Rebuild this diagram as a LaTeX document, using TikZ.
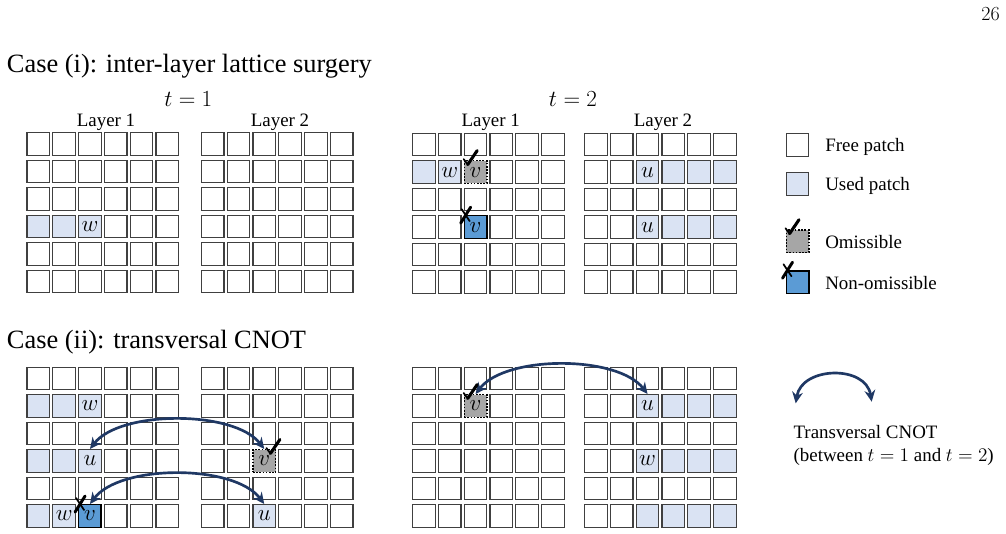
\documentclass[tikz,border=0pt]{standalone}
\usepackage{fontspec}
\newfontfamily\tnr{Liberation Serif}
\usetikzlibrary{arrows.meta}

\begin{document}
\begin{tikzpicture}[
  x=0.75pt, y=-0.75pt,
  font=\tnr\fontsize{14.2}{17}\selectfont,
  every node/.style={inner sep=0pt},
  patch/.style={draw=ink, line width=0.9pt, fill=white,
    minimum width=16.9pt, minimum height=17pt, font=\fontsize{16}{18}\selectfont},
  used/.style={patch, fill=pused},
  omit/.style={patch, fill=pomit, draw=black, line width=1.1pt,
    dash pattern=on 1.2pt off 1.2pt,
    preaction={draw=white, solid, line width=1.8pt}},
  nonomit/.style={patch, fill=pnon, draw=black, line width=1.1pt},
  cnot/.style={draw=cnotblue, line width=2pt,
    {Stealth[length=8.5pt,width=8pt]}-{Stealth[length=8.5pt,width=8pt]}},
  okmark/.style={line cap=round, line join=round},
]

\definecolor{ink}{HTML}{404040}
\definecolor{pused}{HTML}{DAE3F3}
\definecolor{pomit}{HTML}{A6A6A6}
\definecolor{pnon}{HTML}{5B9BD5}
\definecolor{cnotblue}{HTML}{1F3864}

\def\px{25.8}   % column pitch
\def\py{27.5}   % row pitch

\path[fill=white] (0,0) rectangle (1006,534);

% headers
\node[anchor=base east, font=\rmfamily\fontsize{15}{18}\selectfont] (pnum) at (1000,20.7) {26};
\node[anchor=base west, font=\tnr\fontsize{19.8}{24}\selectfont] (case1) at (6.7,73) {Case (i): inter-layer lattice surgery};
\node[anchor=base west, font=\tnr\fontsize{19.8}{24}\selectfont] (case2) at (6.7,349) {Case (ii): transversal CNOT};
\node[anchor=base, font=\fontsize{17.5}{20}\selectfont] (t1) at (188.3,106.5) {$t=1$};
\node[anchor=base, font=\fontsize{17.5}{20}\selectfont] (t2) at (573,106.5) {$t=2$};
\node[anchor=base] (lay-a) at (106,126.5) {Layer 1};
\node[anchor=base] (lay-b) at (280,126.5) {Layer 2};
\node[anchor=base] (lay-c) at (490.7,126.5) {Layer 1};
\node[anchor=base] (lay-d) at (663,126.5) {Layer 2};

% the patch grids
\def\grids{%
  a/26.7/132.3, b/201/132.3, c/412.3/132.8, d/584.3/132.8,
  e/26.7/366.7, f/201/366.7, g/412.3/366.7, h/584.3/366.7%
}
\foreach \g/\gx/\gy in \grids {
  \foreach \r in {1,...,6} {
    \foreach \c in {1,...,6} {
      \node[patch] (\g-\r-\c) at ({\gx+(\c-1)*\px+11.65},{\gy+(\r-1)*\py+11.75}) {};
    }
  }
}

% used, omissible and non-omissible patches
\def\patchlist{%
  a/4/1/used/{}, a/4/2/used/{}, a/4/3/used/w,
  c/2/1/used/{}, c/2/2/used/w, c/2/3/omit/v, c/4/3/nonomit/v,
  d/2/3/used/u, d/2/4/used/{}, d/2/5/used/{}, d/2/6/used/{},
  d/4/3/used/u, d/4/4/used/{}, d/4/5/used/{}, d/4/6/used/{},
  e/2/1/used/{}, e/2/2/used/{}, e/2/3/used/w,
  e/4/1/used/{}, e/4/2/used/{}, e/4/3/used/u,
  e/6/1/used/{}, e/6/2/used/w, e/6/3/nonomit/v,
  f/4/3/omit/v, f/6/3/used/u,
  g/2/3/omit/v,
  h/2/3/used/u, h/2/4/used/{}, h/2/5/used/{}, h/2/6/used/{},
  h/4/3/used/w, h/4/4/used/{}, h/4/5/used/{}, h/4/6/used/{},
  h/6/3/used/{}, h/6/4/used/{}, h/6/5/used/{}, h/6/6/used/{}%
}
\foreach \g/\r/\c/\kind/\lbl in \patchlist {
  \node[\kind] (\g-\r-\c-x) at (\g-\r-\c) {$\lbl$};
}

% legend
\node[patch] (lfree) at (797.5,145) {};
\node[used] (lused) at (797.5,184.2) {};
\node[omit] (lomit) at (797.5,241.3) {};
\node[nonomit] (lnon) at (797.5,282.3) {};
\node[anchor=base west] (txt-free) at (825,152) {Free patch};
\node[anchor=base west] (txt-used) at (825,191) {Used patch};
\node[anchor=base west] (txt-omit) at (825,248.3) {Omissible};
\node[anchor=base west] (txt-non) at (825,289.3) {Non-omissible};

% transversal CNOTs
\draw[cnot] (f-4-3.north) .. controls +(-30,-39) and +(30,-39) .. (e-4-3.north);
\draw[cnot] (e-6-3.north) .. controls +(30,-40) and +(-30,-40) .. (f-6-3.north);
\draw[cnot] (g-2-3.north) .. controls +(30,-39) and +(-30,-39) .. (h-2-3.north);

\coordinate (arrL) at (795.7,403.3);
\coordinate (arrR) at (871.7,401.7);
\draw[cnot] (arrL) .. controls +(6,-37) and +(-6,-37) .. (arrR);
\node[anchor=north west, align=left, font=\tnr\fontsize{14.2}{17}\selectfont] (txt-cnot)
  at (793.3,425.5) {Transversal CNOT\\(between $t=1$ and $t=2$)};

% check and cross marks
\foreach \cell/\sx in {c-2-3/0, g-2-3/0, f-4-3/14, lomit/0} {
  \draw[okmark, line width=1.3pt] ([shift={(\sx+4,4.5)}]\cell.north west) -- ++(-4,-5.5);
  \draw[okmark, line width=2.3pt] ([shift={(\sx+4,4.5)}]\cell.north west) -- ++(9.5,-14);
}
\foreach \cell in {c-4-3, e-6-3, lnon} {
  \draw[okmark, line width=2.2pt] ([shift={(-3,8)}]\cell.north west) -- ++(10,-16);
  \draw[okmark, line width=1.3pt] ([shift={(-2,-6)}]\cell.north west) -- ++(8,12);
}

\end{tikzpicture}
\end{document}
